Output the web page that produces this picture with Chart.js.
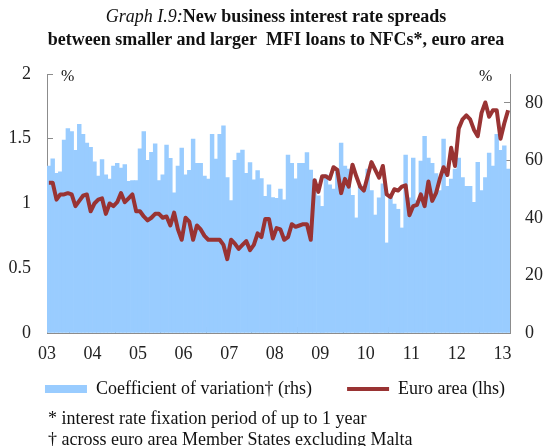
<!DOCTYPE html>
<html><head><meta charset="utf-8">
<script src="https://cdn.jsdelivr.net/npm/chart.js@4/dist/chart.umd.min.js"></script>
<style>
html,body{margin:0;padding:0;background:#fff;}
#wrap{position:relative;width:546px;height:446px;font-family:'Liberation Serif','Times New Roman',serif;color:#111;overflow:hidden;}
#title{position:absolute;left:6px;width:540px;top:5px;text-align:center;font-size:18px;line-height:23px;}
.pct{position:absolute;font-size:16px;top:67px;line-height:18px;}
.note{position:absolute;left:48px;font-size:18px;line-height:22px;white-space:nowrap;}
canvas{position:absolute;left:0;top:0;}
</style></head><body>
<div id="wrap">
<canvas id="c" width="546" height="446"></canvas>
<div id="title"><i>Graph I.9:</i><b>New business interest rate spreads</b><br><b>between smaller and larger&nbsp; MFI loans to NFCs*, euro area</b></div>
<div class="pct" style="left:61px">%</div>
<div class="pct" style="left:479px">%</div>
<div class="note" style="top:407px">* interest rate fixation period of up to 1 year</div>
<div class="note" style="top:428px">† across euro area Member States excluding Malta</div>
</div>
<script>
// x-axis tick labels (years, one tick every 12 months starting Jan 2003)
const yearLabels = ['03','04','05','06','07','08','09','10','11','12','13'];

// Coefficient of variation (rhs, %) – monthly, Jan 2003 .. Feb 2013
const coefVariation = [
  58, 60.5, 55.5, 56, 67, 71, 70, 63.5, 72.5, 69, 66, 64.5,
  59.5, 54.5, 60.3, 55, 53.5, 58, 59, 57.3, 58.5, 52.7, 53, 53,
  64, 70, 60, 62.8, 65.7, 53, 55, 65.3, 60.7, 48.7, 58, 64.3,
  55, 56.5, 67.4, 59, 59, 54.5, 53.5, 69, 60.4, 69, 72, 54,
  46, 60, 62.5, 63.6, 55.5, 59.2, 53.2, 56.4, 53.7, 47.5, 51.5, 47.1,
  46.8, 50, 46.3, 61.8, 59, 53.6, 59, 59, 62.7, 56.6, 53.5, 47.7,
  44, 55, 51.5, 50, 57, 66, 58, 57, 47.8, 40, 51.5, 50,
  57, 49.5, 41, 47, 51.8, 31.3, 47.5, 44.8, 43, 36.5, 61.8, 47,
  60.8, 46, 59.7, 68.3, 60.8, 59, 55.4, 49.5, 67.4, 51, 53.5, 57,
  60.8, 54, 51, 51, 45.4, 59.3, 49.5, 54, 62.5, 58, 69, 63.5,
  65, 57
];

// Euro area spread (lhs, percentage points) – monthly, Jan 2003 .. Feb 2013
const euroArea = [
  1.16, 1.16, 1.03, 1.07, 1.07, 1.08, 1.07, 0.98, 1.02, 1.06, 1.07, 0.94,
  1.00, 1.03, 1.04, 0.92, 1.00, 0.98, 1.01, 1.08, 1.01, 1.04, 1.07, 0.94,
  0.94, 0.90, 0.87, 0.89, 0.92, 0.92, 0.89, 0.90, 0.83, 0.93, 0.80, 0.72,
  0.89, 0.86, 0.72, 0.83, 0.80, 0.75, 0.72, 0.72, 0.72, 0.72, 0.68, 0.57,
  0.72, 0.69, 0.65, 0.68, 0.71, 0.64, 0.68, 0.77, 0.74, 0.88, 0.88, 0.73,
  0.81, 0.80, 0.72, 0.74, 0.84, 0.82, 0.83, 0.84, 0.84, 0.72, 1.18, 1.09,
  1.21, 1.21, 1.19, 1.28, 1.26, 1.08, 1.19, 1.13, 1.30, 1.21, 1.13, 1.10,
  1.21, 1.32, 1.26, 1.20, 1.29, 1.07, 1.05, 1.11, 1.10, 1.13, 1.14, 0.91,
  0.98, 0.99, 1.07, 0.98, 1.17, 1.02, 1.08, 1.19, 1.28, 1.22, 1.43, 1.29,
  1.58, 1.65, 1.68, 1.65, 1.57, 1.52, 1.70, 1.78, 1.67, 1.72, 1.72, 1.50,
  1.62, 1.72
];

const FONT = '"Liberation Serif", "Times New Roman", serif';
const AXIS = '#8c8c8c';
const BAR = '#99CCFF';
const LINE = '#993333';

Chart.defaults.font.family = FONT;
Chart.defaults.font.size = 18;
Chart.defaults.color = '#222';

const nMonths = coefVariation.length;
const barData = coefVariation.map((v, i) => ({x: i + 0.5, y: v}));
const lineData = euroArea.map((v, i) => ({x: i + 0.5, y: v}));

function build() {
  return new Chart(document.getElementById('c'), {
    data: {
      datasets: [
        {type: 'bar', label: 'Coefficient of variation† (rhs)\u2003', data: barData, yAxisID: 'y2',
         backgroundColor: BAR, borderWidth: 0, barPercentage: 1, categoryPercentage: 1, order: 2},
        {type: 'line', label: 'Euro area (lhs)', data: lineData, yAxisID: 'y',
         borderColor: LINE, backgroundColor: LINE, borderWidth: 4, pointRadius: 0, tension: 0,
         fill: false, order: 1, borderJoinStyle: 'round'}
      ]
    },
    options: {
      responsive: false, animation: false, devicePixelRatio: 1,
      layout: {padding: {top: 74, left: 4, right: 0, bottom: 38}},
      plugins: {
        tooltip: {enabled: false},
        legend: {
          position: 'bottom',
          labels: {
            usePointStyle: true, pointStyleWidth: 42, boxHeight: 8, padding: 17,
            color: '#111', font: {family: FONT, size: 18},
            generateLabels: chart => chart.data.datasets.map((ds, i) => ({
              text: ds.label,
              fillStyle: ds.type === 'line' ? ds.borderColor : ds.backgroundColor,
              strokeStyle: ds.type === 'line' ? ds.borderColor : ds.backgroundColor,
              lineWidth: ds.type === 'line' ? 4 : 0,
              pointStyle: ds.type === 'line' ? 'line' : 'rect',
              fontColor: '#111',
              hidden: false, datasetIndex: i
            }))
          }
        }
      },
      scales: {
        x: {
          type: 'linear', min: 0, max: nMonths, offset: false,
          grid: {display: true, drawOnChartArea: false, drawTicks: true, tickLength: -6, color: AXIS},
          border: {display: true, color: AXIS, width: 1},
          ticks: {stepSize: 12, autoSkip: false, includeBounds: false, maxRotation: 0, padding: 16, color: '#222',
                  font: {family: FONT, size: 18},
                  callback: v => yearLabels[Math.round(v / 12)]},
          afterBuildTicks: s => { s.ticks = yearLabels.map((_, k) => ({value: k * 12})); },
          afterFit: s => { s.height = 30; }
        },
        y: {
          position: 'left', min: 0, max: 2,
          grid: {display: true, drawOnChartArea: false, drawTicks: true, tickLength: -6, color: AXIS},
          border: {display: true, color: AXIS, width: 1},
          ticks: {stepSize: 0.5, padding: 22, color: '#222', font: {family: FONT, size: 18},
                  callback: v => String(v)},
          afterFit: s => { s.width = 43; }
        },
        y2: {
          position: 'right', min: 0, max: 90,
          grid: {display: true, drawOnChartArea: false, drawTicks: true, tickLength: -6, color: AXIS},
          border: {display: true, color: AXIS, width: 1},
          ticks: {stepSize: 20, padding: 21, color: '#222', font: {family: FONT, size: 18}},
          afterBuildTicks: s => { s.ticks = s.ticks.filter(t => t.value <= 80); },
          afterFit: s => { s.width = 36; }
        }
      }
    }
  });
}

let chart = null;
function start() { if (!chart) chart = build(); else chart.update(); }
if (document.fonts && document.fonts.load) {
  Promise.all([
    document.fonts.load('18px "Liberation Serif"'),
    document.fonts.load('italic 18px "Liberation Serif"'),
    document.fonts.load('bold 18px "Liberation Serif"')
  ]).then(start, start);
  setTimeout(start, 300);
} else {
  start();
}
</script>
</body></html>
